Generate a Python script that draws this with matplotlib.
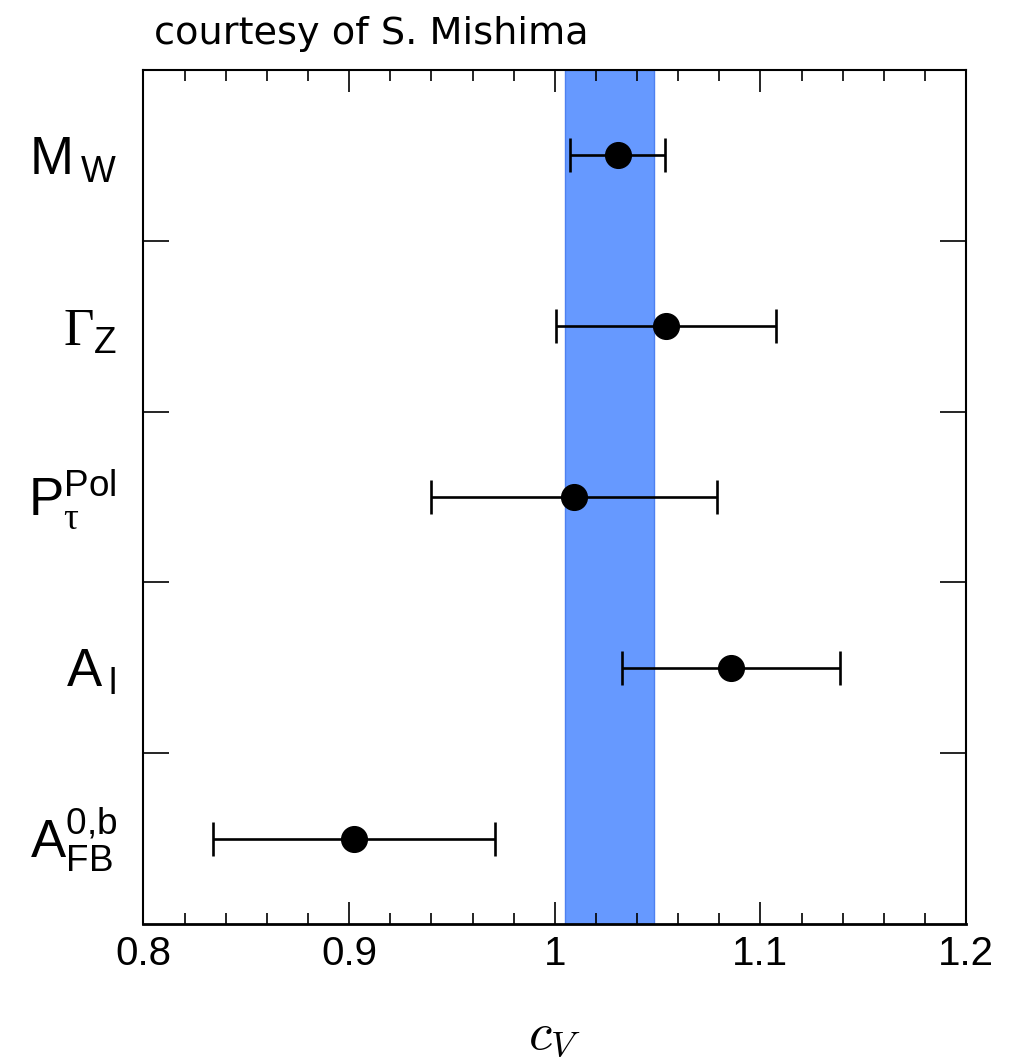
import matplotlib
matplotlib.use("Agg")
import matplotlib.pyplot as plt
import matplotlib.transforms as mtransforms
from matplotlib.ticker import MultipleLocator

plt.rcParams["mathtext.fontset"] = "custom"
plt.rcParams["mathtext.rm"] = "Liberation Sans"
plt.rcParams["mathtext.it"] = "Liberation Sans:italic"
plt.rcParams["mathtext.cal"] = "Liberation Serif"

# Observables and fitted c_V values with 1-sigma errors
labels = [
    r"$\mathrm{M}\,_{\mathrm{W}}$",
    r"$\mathcal{\Gamma}_{\mathrm{Z}}$",
    r"$\mathrm{P}_{\mathcal{\tau}}^{\mathrm{Pol}}$",
    r"$\mathrm{A}\,_{\mathrm{l}}$",
    r"$\mathrm{A}_{\mathrm{FB}}^{\mathrm{0{,}b}}$",
]
central = [1.0307, 1.0541, 1.0093, 1.0856, 0.9022]
errors = [0.0231, 0.0534, 0.0697, 0.0531, 0.0685]

# Combined 1-sigma band
band_low, band_high = 1.0052, 1.0481

x_ticks = [0.8, 0.9, 1.0, 1.1, 1.2]
x_tick_labels = ["0.8", "0.9", "1", "1.1", "1.2"]

fig = plt.figure(figsize=(10.17, 10.57), dpi=100)
ax = fig.add_axes([0.1411, 0.1258, 0.8088, 0.8080])

ax.axvspan(band_low, band_high, facecolor="#6699ff", edgecolor="#4d80f0",
           linewidth=1.0, zorder=1)

rows = list(range(len(labels)))
ax.errorbar(central, rows, xerr=errors, fmt="o", color="black",
            markersize=18.5, elinewidth=1.9, capsize=12, capthick=1.9,
            zorder=3)

ax.set_xlim(0.8, 1.2)
ax.set_ylim(len(labels) - 0.5, -0.5)

ax.set_xticks(x_ticks)
ax.set_xticklabels(x_tick_labels, fontfamily="Liberation Sans", fontsize=29)
ax.xaxis.set_minor_locator(MultipleLocator(0.02))
ax.set_yticks([r + 0.5 for r in rows[:-1]])
ax.set_yticklabels([])

ax.tick_params(axis="x", which="major", direction="in", length=16, width=1.2,
               top=True, bottom=True, pad=8)
ax.tick_params(axis="x", which="minor", direction="in", length=8, width=1.2,
               top=True, bottom=True)
ax.tick_params(axis="y", which="major", direction="in", length=19, width=1.2,
               left=True, right=True)

for side in ["left", "right", "top"]:
    ax.spines[side].set_linewidth(1.5)
ax.spines["bottom"].set_linewidth(2.0)

# Row labels, right-aligned just left of the frame
for r, lab in zip(rows, labels):
    trans = mtransforms.blended_transform_factory(ax.transAxes, ax.transData)
    off = mtransforms.ScaledTranslation(-26.5 / 100, -19 / 100, fig.dpi_scale_trans)
    ax.text(0, r, lab, transform=trans + off, ha="right", va="baseline",
            fontsize=38, color="black")

ax.text(0.5, -0.145, r"$c_V$", transform=ax.transAxes, ha="center",
        va="baseline", fontsize=38, math_fontfamily="cm")

fig.text(154 / 1017, 1 - 44 / 1057, "courtesy of S. Mishima",
         fontfamily="DejaVu Sans", fontsize=27.5, ha="left", va="baseline")

fig.savefig("out.png", dpi=100, facecolor="white")
